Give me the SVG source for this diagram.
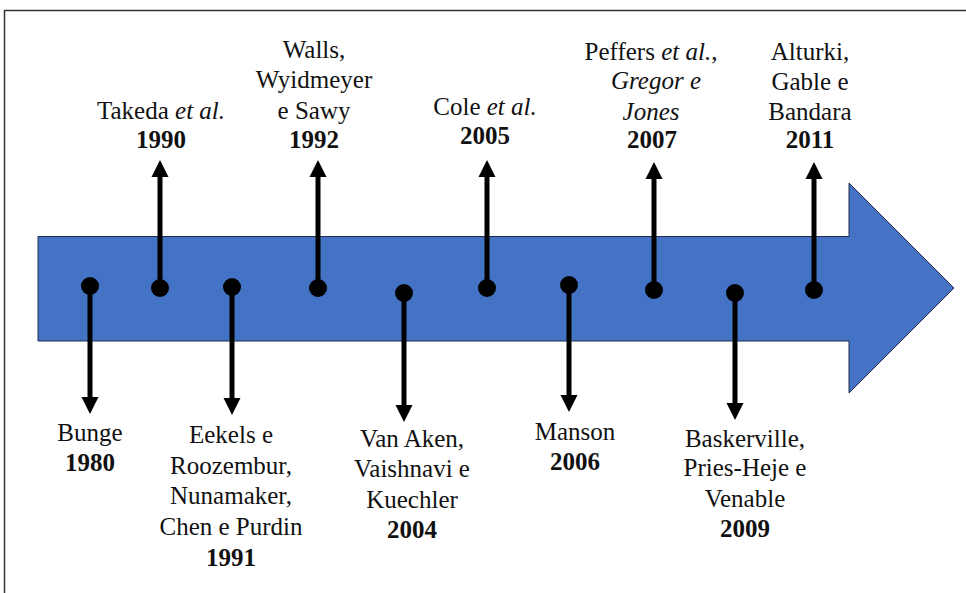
<svg xmlns="http://www.w3.org/2000/svg" width="966" height="593" viewBox="0 0 966 593">
<style>
.t{font-family:'Liberation Serif', 'DejaVu Serif', serif;font-size:25px;fill:#111;text-anchor:middle}
.b{font-weight:bold}
.i{font-style:italic}
.c{stroke:#000;stroke-width:5;fill:none}
.d{fill:#000}
</style>
<defs>
<marker id="ah" markerUnits="userSpaceOnUse" markerWidth="18" markerHeight="18" refX="0" refY="8.5" orient="auto" viewBox="0 0 18 17">
<path d="M0,0 L17,8.5 L0,17 z" fill="#000"/>
</marker>
</defs>
<rect x="0" y="0" width="966" height="593" fill="#fff"/>
<rect x="4.5" y="10.5" width="980" height="600" fill="none" stroke="#333" stroke-width="1.5"/>
<g id="timeline-arrow">
<path d="M38,236.5 L849,236.5 L849,183 L954,288 L849,393 L849,341 L38,341 Z" fill="#4472C4" stroke="#1f2d4d" stroke-width="1"/>
</g>
<g id="connectors">
<line class="c" x1="90" y1="286" x2="90" y2="397" marker-end="url(#ah)"/>
<line class="c" x1="160" y1="288" x2="160" y2="177" marker-end="url(#ah)"/>
<line class="c" x1="232" y1="287" x2="232" y2="398" marker-end="url(#ah)"/>
<line class="c" x1="318" y1="288" x2="318" y2="177" marker-end="url(#ah)"/>
<line class="c" x1="404" y1="293" x2="404" y2="405" marker-end="url(#ah)"/>
<line class="c" x1="487" y1="288" x2="487" y2="177" marker-end="url(#ah)"/>
<line class="c" x1="569" y1="285" x2="569" y2="395" marker-end="url(#ah)"/>
<line class="c" x1="654" y1="290" x2="654" y2="179" marker-end="url(#ah)"/>
<line class="c" x1="735" y1="293" x2="735" y2="403" marker-end="url(#ah)"/>
<line class="c" x1="814" y1="290" x2="814" y2="179" marker-end="url(#ah)"/>
</g>
<g id="n1980"><circle class="d" cx="90" cy="286" r="9"/>
<text class="t" x="90" y="441">Bunge</text><text class="t b" x="90" y="471">1980</text></g>
<g id="n1990"><circle class="d" cx="160" cy="288" r="9"/>
<text class="t" x="161" y="119">Takeda <tspan class="i">et al.</tspan></text><text class="t b" x="161" y="148">1990</text></g>
<g id="n1991"><circle class="d" cx="232" cy="287" r="9"/>
<text class="t" x="231" y="443">Eekels e</text><text class="t" x="231" y="474">Roozembur,</text><text class="t" x="231" y="504">Nunamaker,</text><text class="t" x="231" y="535">Chen e Purdin</text><text class="t b" x="231" y="566">1991</text></g>
<g id="n1992"><circle class="d" cx="318" cy="288" r="9"/>
<text class="t" x="314" y="58">Walls,</text><text class="t" x="314" y="88">Wyidmeyer</text><text class="t" x="314" y="119">e Sawy</text><text class="t b" x="314" y="148">1992</text></g>
<g id="n2004"><circle class="d" cx="404" cy="293" r="9"/>
<text class="t" x="412" y="447">Van Aken,</text><text class="t" x="412" y="477">Vaishnavi e</text><text class="t" x="412" y="508">Kuechler</text><text class="t b" x="412" y="538">2004</text></g>
<g id="n2005"><circle class="d" cx="487" cy="288" r="9"/>
<text class="t" x="485" y="115">Cole <tspan class="i">et al.</tspan></text><text class="t b" x="485" y="144">2005</text></g>
<g id="n2006"><circle class="d" cx="569" cy="285" r="9"/>
<text class="t" x="575" y="440">Manson</text><text class="t b" x="575" y="470">2006</text></g>
<g id="n2007"><circle class="d" cx="654" cy="290" r="9"/>
<text class="t" x="651" y="60">Peffers <tspan class="i">et al.</tspan>,</text><text class="t i" x="656" y="89">Gregor e</text><text class="t i" x="651" y="120">Jones</text><text class="t b" x="652" y="148">2007</text></g>
<g id="n2009"><circle class="d" cx="735" cy="293" r="9"/>
<text class="t" x="745" y="447">Baskerville,</text><text class="t" x="745" y="476">Pries-Heje e</text><text class="t" x="745" y="507">Venable</text><text class="t b" x="745" y="537">2009</text></g>
<g id="n2011"><circle class="d" cx="814" cy="290" r="9"/>
<text class="t" x="810" y="60">Alturki,</text><text class="t" x="810" y="90">Gable e</text><text class="t" x="810" y="120">Bandara</text><text class="t b" x="810" y="148">2011</text></g>
</svg>
